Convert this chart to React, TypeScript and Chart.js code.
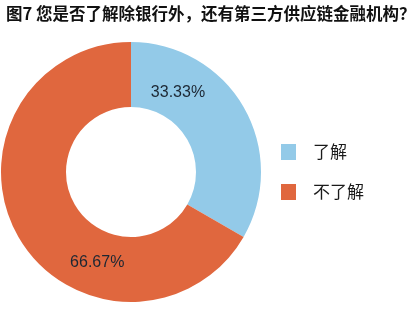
import React, { useEffect, useRef } from "react";
import { Chart, registerables } from "chart.js";

Chart.register(...registerables);

const titleText = "图7 您是否了解除银行外，还有第三方供应链金融机构？";
const categories = ["了解", "不了解"];
const values = [33.33, 66.67];
const valueLabels = ["33.33%", "66.67%"];
const colors = ["#93CAE8", "#E0673E"];

const labelPlugin = {
  id: "sliceLabels",
  afterDatasetsDraw(chart: any, _args: any, opts: any) {
    const { ctx } = chart;
    const meta = chart.getDatasetMeta(0);
    ctx.save();
    ctx.font = "16px 'Liberation Sans', Arial, sans-serif";
    ctx.fillStyle = "#1c2733";
    ctx.textAlign = "center";
    ctx.textBaseline = "middle";
    meta.data.forEach((arc: any, i: number) => {
      const p = opts.place[i];
      const { x, y, startAngle, endAngle, innerRadius, outerRadius } = arc.getProps(
        ["x", "y", "startAngle", "endAngle", "innerRadius", "outerRadius"],
        true
      );
      const a = startAngle + p.a * (endAngle - startAngle);
      const r = innerRadius + p.r * (outerRadius - innerRadius);
      ctx.fillText(valueLabels[i], x + Math.cos(a) * r, y + Math.sin(a) * r);
    });
    ctx.restore();
  },
};

const legendPlugin = {
  id: "sideLegend",
  afterDraw(chart: any, _args: any, opts: any) {
    const { ctx } = chart;
    ctx.save();
    ctx.font = "17px 'Noto Sans CJK SC', sans-serif";
    ctx.textBaseline = "middle";
    ctx.textAlign = "left";
    categories.forEach((c, i) => {
      const y = opts.y + i * opts.gap;
      ctx.fillStyle = colors[i];
      ctx.fillRect(opts.x, y - 8, 15, 16);
      ctx.fillStyle = "#1a1a1a";
      ctx.fillText(c, opts.x + 32, y);
    });
    ctx.restore();
  },
};

export default function App() {
  const ref = useRef<HTMLCanvasElement>(null);
  useEffect(() => {
    document.body.style.margin = "0";
    const chart = new Chart(ref.current as HTMLCanvasElement, {
      type: "doughnut",
      data: {
        labels: categories,
        datasets: [
          {
            data: values,
            backgroundColor: colors,
            borderWidth: 0,
            hoverOffset: 0,
          },
        ],
      },
      options: {
        responsive: false,
        animation: false,
        cutout: "50%",
        layout: { padding: { left: 1, top: 42, right: 157, bottom: 11 } },
        plugins: {
          legend: { display: false },
          tooltip: { enabled: false },
          sliceLabels: {
            place: [
              { a: 0.255, r: 0.42 },
              { a: 0.335, r: 0.49 },
            ],
          },
          sideLegend: { x: 281, y: 152, gap: 40 },
        } as any,
      },
      plugins: [labelPlugin, legendPlugin],
    });
    return () => chart.destroy();
  }, []);

  return (
    <div style={{ position: "fixed", left: 0, top: 0, width: 418, height: 313, background: "#fff" }}>
      <canvas ref={ref} width={418} height={313} style={{ position: "absolute", left: 0, top: 0 }} />
      <div
        style={{
          position: "absolute",
          left: 6,
          top: 2,
          whiteSpace: "nowrap",
          fontFamily: "'Noto Sans CJK SC', sans-serif",
          fontWeight: 700,
          fontSize: 16.5,
          lineHeight: "22px",
          color: "#111",
        }}
      >
        {titleText}
      </div>
    </div>
  );
}
